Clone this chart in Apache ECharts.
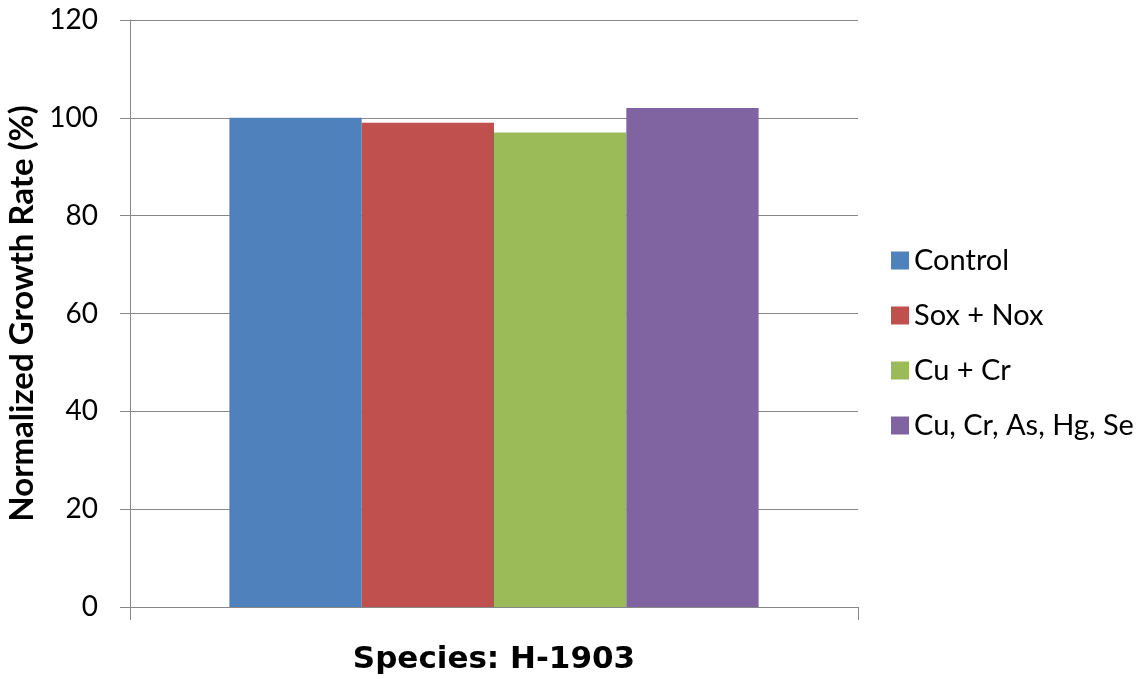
<!DOCTYPE html>
<html>
<head>
<meta charset="utf-8">
<style>
  html, body { margin: 0; padding: 0; background: #fff; }
  #chart { width: 1139px; height: 679px; }
</style>
<script src="https://cdn.jsdelivr.net/npm/echarts@6/dist/echarts.min.js"></script>
</head>
<body>
<div id="chart"></div>
<script>
// Growth rate per treatment, normalized to the control
const categories = ['Species: H-1903'];
const seriesNames = ['Control', 'Sox + Nox', 'Cu + Cr', 'Cu, Cr, As, Hg, Se'];
const controlValues = [100];
const soxNoxValues = [99];
const cuCrValues = [97];
const metalsValues = [102];
const seriesColors = ['#4F81BD', '#C0504D', '#9BBB59', '#8064A2'];

const seriesValues = [controlValues, soxNoxValues, cuCrValues, metalsValues];
const bodyFont = 'Lato, "Open Sans", sans-serif';

const chart = echarts.init(document.getElementById('chart'));
chart.setOption({
  animation: false,
  backgroundColor: '#ffffff',
  grid: {
    left: 130, right: 281, top: 20, bottom: 72,
    containLabel: false,
    outerBoundsMode: 'none'
  },
  legend: {
    orient: 'vertical',
    left: 886,
    top: 241,
    itemWidth: 18,
    itemHeight: 18,
    itemGap: 26,
    icon: 'rect',
    data: seriesNames,
    textStyle: { fontFamily: bodyFont, fontSize: 29, color: '#000' }
  },
  xAxis: {
    type: 'category',
    data: categories,
    axisLine: { lineStyle: { color: '#888', width: 1 } },
    axisTick: { show: true, length: 13, lineStyle: { color: '#888' } },
    axisLabel: {
      margin: 37,
      fontFamily: '"DejaVu Sans", sans-serif',
      fontWeight: 'bold',
      fontSize: 31,
      color: '#000'
    }
  },
  yAxis: {
    type: 'value',
    min: 0,
    max: 120,
    interval: 20,
    name: 'Normalized Growth Rate (%)',
    nameLocation: 'middle',
    nameGap: 84,
    nameRotate: 90,
    nameTextStyle: { fontFamily: bodyFont, fontWeight: 'bold', fontSize: 33, color: '#000' },
    axisLine: { show: true, lineStyle: { color: '#888', width: 1 } },
    axisTick: { show: true, length: 10, lineStyle: { color: '#888' } },
    axisLabel: { margin: 32, fontFamily: bodyFont, fontSize: 28, color: '#000' },
    splitLine: { show: true, lineStyle: { color: '#888', width: 1 } }
  },
  series: seriesNames.map((name, i) => ({
    name: name,
    type: 'bar',
    data: seriesValues[i],
    barGap: '0%',
    barCategoryGap: '27.3%',
    itemStyle: { color: seriesColors[i] }
  }))
});
</script>
</body>
</html>
